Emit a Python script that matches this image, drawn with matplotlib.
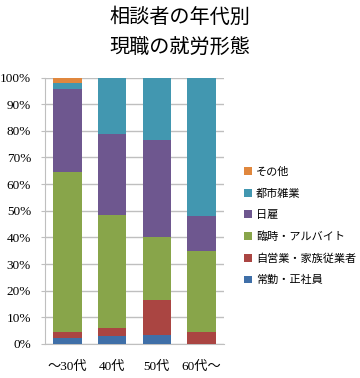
import numpy as np
import matplotlib.pyplot as plt
from matplotlib.ticker import PercentFormatter

plt.rcParams['font.family'] = ['Liberation Serif', 'Noto Sans CJK JP']

ages = ["～30代", "40代", "50代", "60代～"]
# percent shares per age group, bottom to top
joukin = [2.1, 3.1, 3.3, 0.0]        # 常勤・正社員
jiei = [2.3, 2.9, 13.3, 4.4]         # 自営業・家族従業者
rinji = [60.1, 42.5, 23.4, 30.4]     # 臨時・アルバイト
hiyatoi = [31.2, 30.4, 36.7, 13.1]   # 日雇
toshi = [2.2, 21.1, 23.3, 52.1]      # 都市雑業
sonota = [2.1, 0.0, 0.0, 0.0]        # その他

series = [
    ("常勤・正社員", joukin, "#3f6fa8"),
    ("自営業・家族従業者", jiei, "#aa4542"),
    ("臨時・アルバイト", rinji, "#88a54a"),
    ("日雇", hiyatoi, "#6e578f"),
    ("都市雑業", toshi, "#4297b0"),
    ("その他", sonota, "#e0873d"),
]

fig = plt.figure(figsize=(3.6, 3.78), dpi=100)
ax = fig.add_axes([45/360, 1-344/378, 179/360, (344-77.5)/378])

x = np.arange(len(ages))
bottom = np.zeros(len(ages))
for name, vals, col in series:
    vals = np.array(vals)
    ax.bar(x, vals, 0.64, bottom=bottom, color=col, label=name, zorder=3)
    bottom += vals

ax.set_xlim(-0.5, 3.5)
ax.set_ylim(0, 100)
ax.set_yticks(np.arange(0, 101, 10))
ax.yaxis.set_major_formatter(PercentFormatter(decimals=0))
ax.set_xticks(x)
ax.set_xticklabels(ages)
ax.grid(axis='y', color='#bfbfbf', linewidth=1, zorder=0)
for s in ['top', 'right']:
    ax.spines[s].set_visible(False)
ax.spines['left'].set_color('#bfbfbf')
ax.spines['bottom'].set_color('#bfbfbf')
ax.tick_params(axis='y', length=3, color='#bfbfbf', labelsize=9.5, pad=7)
ax.tick_params(axis='x', length=0, labelsize=9.5, pad=12)

h, l = ax.get_legend_handles_labels()
fig.legend(h[::-1], l[::-1], loc='upper left', bbox_to_anchor=(234/360, 1-157/378),
           frameon=False, prop={'family': 'Noto Sans CJK JP', 'size': 8},
           handlelength=0.7, handleheight=0.7, handletextpad=0.4, labelspacing=1.02)

fig.text(0.5, 1-17/378, "相談者の年代別", ha='center', va='center',
         fontsize=14.5, family='Noto Sans CJK JP')
fig.text(0.5, 1-47/378, "現職の就労形態", ha='center', va='center',
         fontsize=14.5, family='Noto Sans CJK JP')

fig.savefig("out.png", dpi=100)
